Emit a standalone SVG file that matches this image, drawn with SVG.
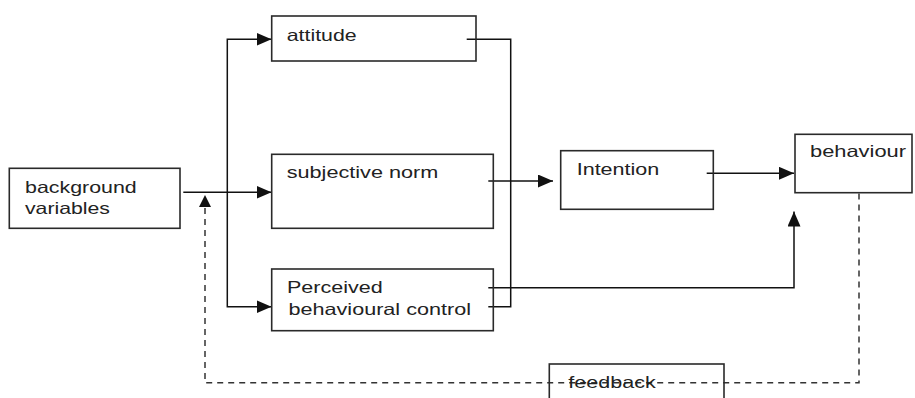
<svg xmlns="http://www.w3.org/2000/svg" width="915" height="398" viewBox="0 0 915 398">
<style>
.box{fill:none;stroke:#2a2a2a;stroke-width:1.6}
.lbl{font-family:"Liberation Sans",Arial,sans-serif;font-size:16.5px;fill:#222}
.ln{fill:none;stroke:#111;stroke-width:1.5}
.dash{fill:none;stroke:#333;stroke-width:1.5;stroke-dasharray:6 5}
</style>
<defs>
<marker id="ah" markerUnits="userSpaceOnUse" markerWidth="15" markerHeight="13" refX="15" refY="6.5" orient="auto">
<path d="M0,0 L15,6.5 L0,13 Z" fill="#111"/>
</marker>
</defs>
<rect x="0" y="0" width="915" height="398" fill="#fff"/>
<g id="connectors">
<path class="ln" d="M183.3,192.3 H271.5" marker-end="url(#ah)"/>
<path class="ln" d="M227.3,192.3 V39.3 H271.5" marker-end="url(#ah)"/>
<path class="ln" d="M227.3,192.3 V306.7 H271.5" marker-end="url(#ah)"/>
<path class="ln" d="M466.7,39.3 H510.7 V306.7 H488.3"/>
<path class="ln" d="M488.3,181 H553" marker-end="url(#ah)"/>
<path class="ln" d="M706.7,173.3 H794" marker-end="url(#ah)"/>
<path class="ln" d="M488.3,287.7 H794 V211.5" marker-end="url(#ah)"/>
<path class="dash" d="M859,193.5 V382.7 H205 V197"/>
<path d="M199,207 L205,195 L211,207 Z" fill="#111"/>
</g>
<g id="background">
<rect class="box" x="9.3" y="168.3" width="170.7" height="60"/>
<text class="lbl" x="25" y="193.3" textLength="111.7" lengthAdjust="spacingAndGlyphs">background</text>
<text class="lbl" x="25" y="214.3" textLength="85" lengthAdjust="spacingAndGlyphs">variables</text>
</g>
<g id="attitude">
<rect class="box" x="271.7" y="16" width="204.3" height="45"/>
<text class="lbl" x="286.7" y="40.7" textLength="70" lengthAdjust="spacingAndGlyphs">attitude</text>
</g>
<g id="subjective">
<rect class="box" x="271.7" y="154.3" width="221.6" height="74"/>
<text class="lbl" x="286.7" y="178.3" textLength="151.6" lengthAdjust="spacingAndGlyphs">subjective norm</text>
</g>
<g id="pbc">
<rect class="box" x="271.7" y="269" width="221.6" height="61.7"/>
<text class="lbl" x="287" y="293.3" textLength="95.7" lengthAdjust="spacingAndGlyphs">Perceived</text>
<text class="lbl" x="288.5" y="315" textLength="182.5" lengthAdjust="spacingAndGlyphs">behavioural control</text>
</g>
<g id="intention">
<rect class="box" x="560.7" y="150.7" width="152.6" height="58.6"/>
<text class="lbl" x="576.7" y="175" textLength="82.6" lengthAdjust="spacingAndGlyphs">Intention</text>
</g>
<g id="behaviour">
<rect class="box" x="795" y="134.3" width="117" height="58.4"/>
<text class="lbl" x="810" y="156.7" textLength="96" lengthAdjust="spacingAndGlyphs">behaviour</text>
</g>
<g id="feedback">
<rect class="box" x="549.3" y="364" width="174.7" height="45"/>
<text class="lbl" x="568.3" y="388.3" textLength="87.4" lengthAdjust="spacingAndGlyphs">feedback</text>
</g>
</svg>
